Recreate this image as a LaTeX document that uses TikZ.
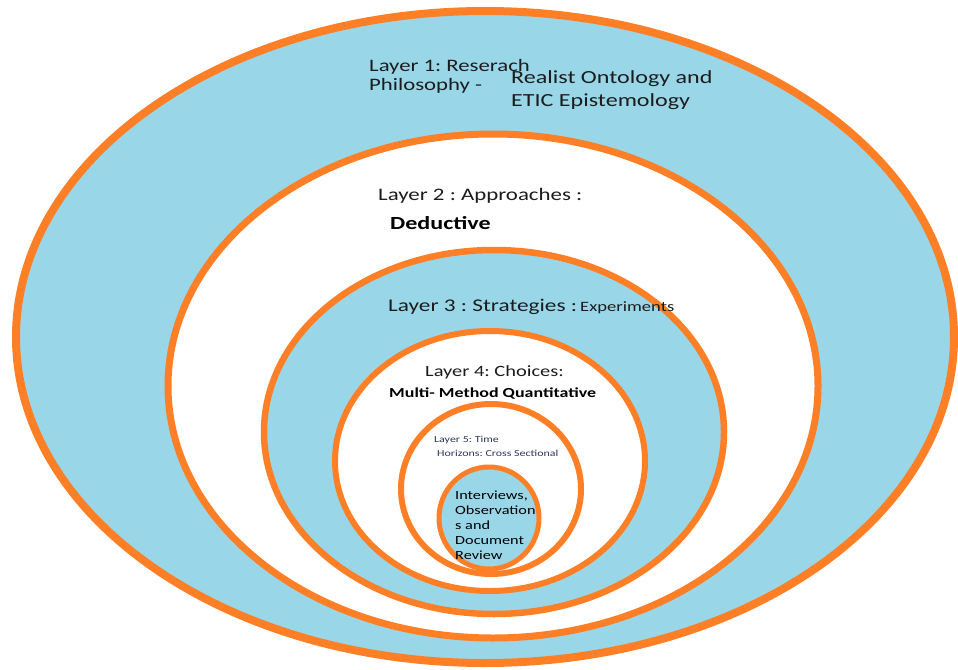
\documentclass[tikz,border=0pt]{standalone}
\usepackage{fontspec}
\setmainfont{Carlito}[FakeStretch=1.3]
\begin{document}
\frenchspacing
\definecolor{ringblue}{RGB}{153,215,232}
\definecolor{ringorange}{RGB}{255,127,39}
\definecolor{labelgrey}{RGB}{28,28,28}
\definecolor{smallslate}{RGB}{45,56,90}
\begin{tikzpicture}[x=1pt,y=-1pt,
  ring/.style={draw=ringorange,line width=#1},
  label/.style={anchor=base west,inner sep=0pt,text=labelgrey},
  fs/.style={font=\fontsize{#1}{#1}\selectfont}]
\useasboundingbox (0,0) rectangle (958,669);
% layered rings, outermost first
\coordinate (c1) at (485,337);
\coordinate (c2) at (493,386);
\coordinate (c3) at (494,432);
\coordinate (c4) at (490,461);
\coordinate (c5) at (491,489);
\coordinate (c6) at (489,518);
\path[ring=8pt,fill=ringblue] (c1) ellipse [x radius=469,y radius=326];
\path[ring=7pt,fill=white]    (c2) ellipse [x radius=325,y radius=252];
\path[ring=6.5pt,fill=ringblue] (c3) ellipse [x radius=230,y radius=182];
\path[ring=6pt,fill=white]    (c4) ellipse [x radius=155,y radius=130];
\path[ring=6pt,fill=white]    (c5) ellipse [x radius=90,y radius=85];
\path[ring=5pt,fill=ringblue] (c6) ellipse [x radius=50,y radius=51];
% layer 1
\node[label,fs=17.5] (l1a) at (369,71) {Layer 1: Reserach};
\node[label,fs=17.5] (l1b) at (369,90) {Philosophy -};
\node[label,fs=18.5] (l1c) at (511,84) {Realist Ontology and};
\node[label,fs=18.5] (l1d) at (511,106) {ETIC Epistemology};
% layer 2
\node[label,fs=17.6] (l2a) at (378,200.5) {Layer 2 : Approaches :};
\node[label,fs=18.5,text=black] (l2b) at (390,229) {\bfseries Deductive};
% layer 3
\node[label,fs=17.9] (l3a) at (388,311) {Layer 3 : Strategies :};
\node[label,fs=14.3] (l3b) at (580,311) {Experiments};
% layer 4
\node[label,fs=15.7] (l4a) at (425,376) {Layer 4: Choices:};
\node[label,fs=13.8,text=black] (l4b) at (389,397) {\bfseries Multi- Method Quantitative};
% layer 5
\node[label,fs=9.2,text=smallslate] (l5a) at (434,442) {Layer 5: Time};
\node[label,fs=9.2,text=smallslate] (l5b) at (437,456) {Horizons: Cross Sectional};
% core
\node[label,fs=12.5,text=black] (l6a) at (455,499) {Interviews,};
\node[label,fs=12.5,text=black] (l6b) at (455,514) {Observation};
\node[label,fs=12.5,text=black] (l6c) at (455,529) {s and};
\node[label,fs=12.5,text=black] (l6d) at (455,544) {Document};
\node[label,fs=12.5,text=black] (l6e) at (455,559) {Review};
\end{tikzpicture}
\end{document}
